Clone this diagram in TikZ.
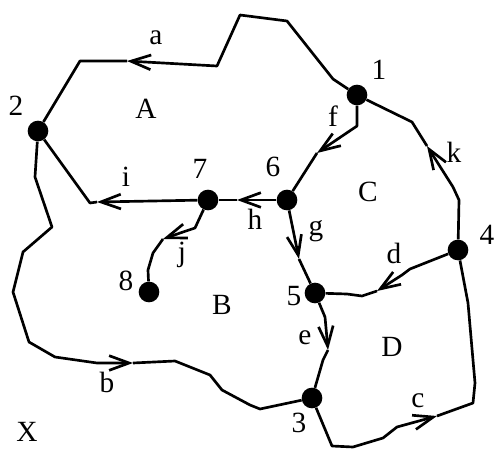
\documentclass[tikz,border=0pt]{standalone}
\usepackage{fontspec}
\setmainfont{Liberation Serif}
\usetikzlibrary{arrows.meta}
\tikzset{
  dot/.style ={circle, fill=black, inner sep=0pt, minimum size=15.5pt},
  line/.style={draw=black, line width=2pt, line join=round},
  % edge part that ends in the open arrow head
  flow/.style={line, -{Straight Barb[length=15pt, width=11pt]}},
  lbl/.style ={font=\fontsize{22}{24}\selectfont, inner sep=0pt},
}

\begin{document}
\begin{tikzpicture}[x=0.75pt, y=-0.75pt]
  \useasboundingbox (0,0) rectangle (499,449);
  % vertices
  \node[dot] (v1) at (357,95)  {};
  \node[dot] (v2) at (38,131)  {};
  \node[dot] (v3) at (312,398) {};
  \node[dot] (v4) at (458,250) {};
  \node[dot] (v5) at (315,293) {};
  \node[dot] (v6) at (287,200) {};
  \node[dot] (v7) at (208,200) {};
  \node[dot] (v8) at (149,292) {};
  % arrow tips
  \coordinate (ta) at (127,61);
  \coordinate (tb) at (133,363);
  \coordinate (tc) at (437,416);
  \coordinate (td) at (377,291);
  \coordinate (te) at (328,350);
  \coordinate (tf) at (317,153);
  \coordinate (tg) at (299,259);
  \coordinate (th) at (237,200);
  \coordinate (ti) at (97,202);
  \coordinate (tj) at (163,239);
  \coordinate (tk) at (427,146);
  % edges
  \draw[flow] (v1) -- (333,79) -- (287,21) -- (240,15) -- (217,66) -- (ta);
  \draw[line] (ta) -- (80,61) -- (v2);
  \draw[flow] (v2) -- (35,177) -- (52,227) -- (23,252) -- (13,292) -- (29,342) -- (55,357) -- (97,363) -- (tb);
  \draw[line] (tb) -- (175,361) -- (210,375) -- (222,390) -- (250,405) -- (260,409) -- (v3);
  \draw[flow] (v3) -- (332,446) -- (353,447) -- (383,438) -- (397,427) -- (tc);
  \draw[line] (tc) -- (473,403) -- (475,383) -- (468,303) -- (v4);
  \draw[flow] (v4) -- (410,269) -- (402,275) -- (td);
  \draw[line] (td) -- (362,296) -- (347,294) -- (v5);
  \draw[flow] (v5) -- (325,317) -- (te);
  \draw[line] (te) -- (323,360) -- (v3);
  \draw[flow] (v1) -- (357,126) -- (tf);
  \draw[line] (tf) -- (v6);
  \draw[flow] (v6) -- (tg);
  \draw[line] (tg) -- (v5);
  \draw[flow] (v6) -- (th);
  \draw[line] (th) -- (v7);
  \draw[flow] (v7) -- (ti);
  \draw[line] (ti) -- (90,203) -- (v2);
  \draw[flow] (v7) -- (195,228) -- (183,232) -- (tj);
  \draw[line] (tj) -- (153,253) -- (148,270) -- (v8);
  \draw[flow] (v4) -- (459,200) -- (453,187) -- (tk);
  \draw[line] (tk) -- (412,122) -- (367,100) -- (v1);
  % vertex numbers
  \node[lbl] (lab1) at (379,70)  {1};
  \node[lbl] (lab2) at (16,106)  {2};
  \node[lbl] (lab3) at (299,423) {3};
  \node[lbl] (lab4) at (487,235) {4};
  \node[lbl] (lab5) at (294,296) {5};
  \node[lbl] (lab6) at (273,167) {6};
  \node[lbl] (lab7) at (200,169) {7};
  \node[lbl] (lab8) at (126,281) {8};
  % edge letters
  \node[lbl] (laba) at (156,38)  {a};
  \node[lbl] (labb) at (107,382) {b};
  \node[lbl] (labc) at (418,401) {c};
  \node[lbl] (labd) at (394,253) {d};
  \node[lbl] (labe) at (305,338) {e};
  \node[lbl] (labf) at (333,116) {f};
  \node[lbl] (labg) at (316,231) {g};
  \node[lbl] (labh) at (255,219) {h};
  \node[lbl] (labi) at (126,177) {i};
  \node[lbl] (labj) at (182,255) {j};
  \node[lbl] (labk) at (454,152) {k};
  % regions
  \node[lbl] (regA) at (146,109) {A};
  \node[lbl] (regB) at (222,305) {B};
  \node[lbl] (regC) at (368,192) {C};
  \node[lbl] (regD) at (392,347) {D};
  \node[lbl] (regX) at (27,432)  {X};
\end{tikzpicture}
\end{document}
